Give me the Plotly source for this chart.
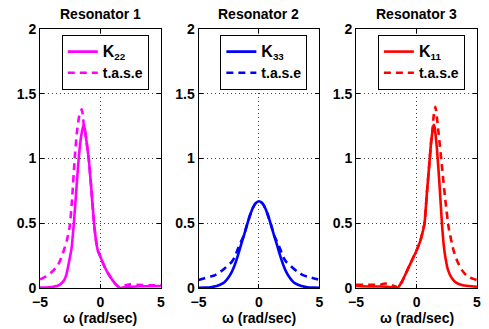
import plotly.graph_objects as go

# ---- data ----
titles = ["Resonator 1", "Resonator 2", "Resonator 3"]
k_names = ["<span style=\"font-size:16px\">K</span><sub>22</sub>",
           "<span style=\"font-size:16px\">K</span><sub>33</sub>",
           "<span style=\"font-size:16px\">K</span><sub>11</sub>"]
tase_name = "t.a.s.e"
colors = ["#FF00FF", "#0000FF", "#FF0000"]

# Resonator 1
w1_k = [-5, -4.5, -4, -3.6, -3.3, -3.0, -2.8, -2.6, -2.4, -2.2, -2.0, -1.8, -1.6, -1.45, -1.38,
        -1.3, -1.15, -0.96, -0.75, -0.55, -0.4, -0.22, 0, 0.33, 0.65, 1.0, 1.3, 1.5, 1.65, 2.0,
        2.5, 3, 4, 5]
k1 = [0.003, 0.004, 0.008, 0.015, 0.03, 0.06, 0.11, 0.2, 0.3, 0.5, 0.75, 1.0, 1.17, 1.24, 1.26,
      1.23, 1.13, 0.99, 0.76, 0.52, 0.39, 0.29, 0.24, 0.166, 0.11, 0.06, 0.025, 0.008, 0.0, 0.005,
      0.01, 0.012, 0.014, 0.015]
w1_t = [-5, -4.5, -4, -3.5, -3.1, -2.8, -2.55, -2.35, -2.13, -1.95, -1.75, -1.55, -1.45, -1.38,
        -1.3, -1.15, -0.96, -0.75, -0.55, -0.4, -0.22, 0, 0.33, 0.65, 1.0, 1.3, 1.5, 1.65, 2.0,
        2.5, 3, 4, 5]
t1 = [0.067, 0.09, 0.125, 0.18, 0.27, 0.36, 0.47, 0.68, 1.0, 1.2, 1.33, 1.38, 1.33, 1.26,
      1.23, 1.13, 0.99, 0.76, 0.52, 0.39, 0.29, 0.24, 0.166, 0.11, 0.06, 0.025, 0.012, 0.012, 0.02,
      0.028, 0.025, 0.02, 0.022]

# Resonator 2
w2_k = [-5, -4.5, -4, -3.5, -3.0, -2.75, -2.5, -2.25, -2.0, -1.75, -1.5, -1.25, -1.0, -0.75,
        -0.5, -0.25, 0, 0.25, 0.5, 0.75, 1.0, 1.25, 1.5, 1.75, 2.0, 2.25, 2.5, 2.75, 3.0, 3.5,
        4, 4.5, 5]
k2 = [0.001, 0.003, 0.006, 0.015, 0.035, 0.055, 0.085, 0.125, 0.18, 0.25, 0.33, 0.405, 0.485,
      0.56, 0.62, 0.657, 0.67, 0.657, 0.62, 0.56, 0.485, 0.405, 0.33, 0.25, 0.18, 0.125, 0.085,
      0.055, 0.035, 0.015, 0.006, 0.003, 0.001]
w2_t = [-5, -4.5, -4, -3.63, -3.2, -2.8, -2.5, -2.27, -2.0, -1.8, -1.58, -1.25, -1.0, -0.75,
        -0.5, -0.25, 0, 0.25, 0.5, 0.75, 1.0, 1.25, 1.58, 1.8, 2.0, 2.27, 2.5, 2.8, 3.2, 3.63,
        4, 4.5, 5]
t2 = [0.062, 0.075, 0.088, 0.10, 0.125, 0.155, 0.18, 0.2, 0.24, 0.29, 0.34, 0.405, 0.485, 0.56,
      0.62, 0.657, 0.67, 0.657, 0.62, 0.56, 0.485, 0.405, 0.34, 0.29, 0.24, 0.2, 0.18, 0.155,
      0.125, 0.10, 0.088, 0.075, 0.062]

# Resonator 3
w3_k = [-5, -4, -3, -2.5, -2, -1.58, -1.2, -0.9, -0.5, 0, 0.3, 0.5, 0.66, 0.87, 1.05, 1.2, 1.35,
        1.42, 1.5, 1.69, 1.89, 2.1, 2.25, 2.38, 2.6, 2.92, 3.3, 3.74, 4.3, 5]
k3 = [0.015, 0.012, 0.012, 0.01, 0.006, 0.0, 0.05, 0.11, 0.19, 0.29, 0.36, 0.43, 0.5, 0.75,
      0.95, 1.12, 1.23, 1.26, 1.24, 1.07, 0.81, 0.5, 0.33, 0.24, 0.14, 0.075, 0.04, 0.023,
      0.015, 0.01]
w3_t = [-5, -4, -3, -2.6, -2.3, -2, -1.7, -1.58, -1.2, -0.9, -0.5, 0, 0.3, 0.5, 0.66, 0.87, 1.05,
        1.2, 1.32, 1.42, 1.56, 1.7, 1.83, 2.1, 2.38, 2.65, 3.06, 3.4, 3.74, 4.1, 4.43, 5]
t3 = [0.025, 0.025, 0.025, 0.035, 0.03, 0.02, 0.01, 0.0, 0.05, 0.11, 0.19, 0.29, 0.36, 0.43, 0.5,
      0.75, 0.95, 1.12, 1.22, 1.33, 1.40, 1.3, 1.19, 0.94, 0.68, 0.47, 0.29, 0.2, 0.14, 0.1,
      0.08, 0.06]

x_ticks = [-5, 0, 5]
y_ticks = [0, 0.5, 1, 1.5, 2]
x_label = "ω (rad/sec)"

series = [(w1_k, k1, w1_t, t1), (w2_k, k2, w2_t, t2), (w3_k, k3, w3_t, t3)]

# ---- layout geometry ----
W, H = 489, 329
ml, mr, mt, mb = 40, 8, 29, 41
pw = W - ml - mr
ph = H - mt - mb
panel_px = [(40, 162), (200, 322), (359, 481)]
domains = [((a - ml) / pw, (b - ml) / pw) for a, b in panel_px]

FONT = "Liberation Sans"
fig = go.Figure()

for i, (wk, kv, wt, tv) in enumerate(series):
    ax = "" if i == 0 else str(i + 1)
    lg = "legend" if i == 0 else f"legend{i + 1}"
    fig.add_trace(go.Scatter(x=wk, y=kv, mode="lines", name=k_names[i],
                             line=dict(color=colors[i], width=2.6, shape="spline", smoothing=0.5),
                             xaxis="x" + ax, yaxis="y" + ax, legend=lg))
    fig.add_trace(go.Scatter(x=wt, y=tv, mode="lines", name=tase_name,
                             line=dict(color=colors[i], width=2.6, dash="7px,5px",
                                       shape="spline", smoothing=0.5),
                             xaxis="x" + ax, yaxis="y" + ax, legend=lg))

layout = dict(
    width=W, height=H,
    margin=dict(l=ml, r=mr, t=mt, b=mb, pad=0),
    paper_bgcolor="white", plot_bgcolor="white",
    font=dict(family=FONT, size=14, color="black", weight="bold"),
    showlegend=True,
    annotations=[],
)

axis_common = dict(
    showline=True, linecolor="black", linewidth=1, mirror="ticks",
    ticks="inside", ticklen=4, tickcolor="black", tickwidth=1,
    showgrid=True, gridcolor="#444", gridwidth=1, griddash="1px,3px",
    zeroline=False,
    tickfont=dict(family=FONT, size=14, color="black", weight="bold"),
)

for i in range(3):
    ax = "" if i == 0 else str(i + 1)
    layout["xaxis" + ax] = dict(axis_common, domain=list(domains[i]), range=[-5, 5],
                                tickmode="array", tickvals=x_ticks, anchor="y" + ax,
                                ticklabelstandoff=1)
    layout["yaxis" + ax] = dict(axis_common, domain=[0, 1], range=[0, 2],
                                tickmode="array", tickvals=y_ticks,
                                ticktext=[("%g" % v) for v in y_ticks], anchor="x" + ax)
    lg = "legend" if i == 0 else f"legend{i + 1}"
    layout[lg] = dict(x=domains[i][0] + 22 / pw, y=1 - 6 / ph, xanchor="left", yanchor="top",
                      bgcolor="white", bordercolor="black", borderwidth=1,
                      font=dict(family=FONT, size=14, color="black", weight="bold"),
                      tracegroupgap=0)
    cx = (domains[i][0] + domains[i][1]) / 2
    layout["annotations"].append(dict(text=titles[i], xref="paper", yref="paper", x=cx,
                                      y=1 + (mt - 14) / ph, xanchor="center", yanchor="middle",
                                      showarrow=False,
                                      font=dict(family=FONT, size=14, color="black", weight="bold")))
    layout["annotations"].append(dict(text=x_label, xref="paper", yref="paper", x=cx,
                                      y=-(318 - (H - mb)) / ph, xanchor="center", yanchor="middle",
                                      showarrow=False,
                                      font=dict(family=FONT, size=14, color="black", weight="bold")))

fig.update_layout(**layout)
fig.write_html("out.html")
